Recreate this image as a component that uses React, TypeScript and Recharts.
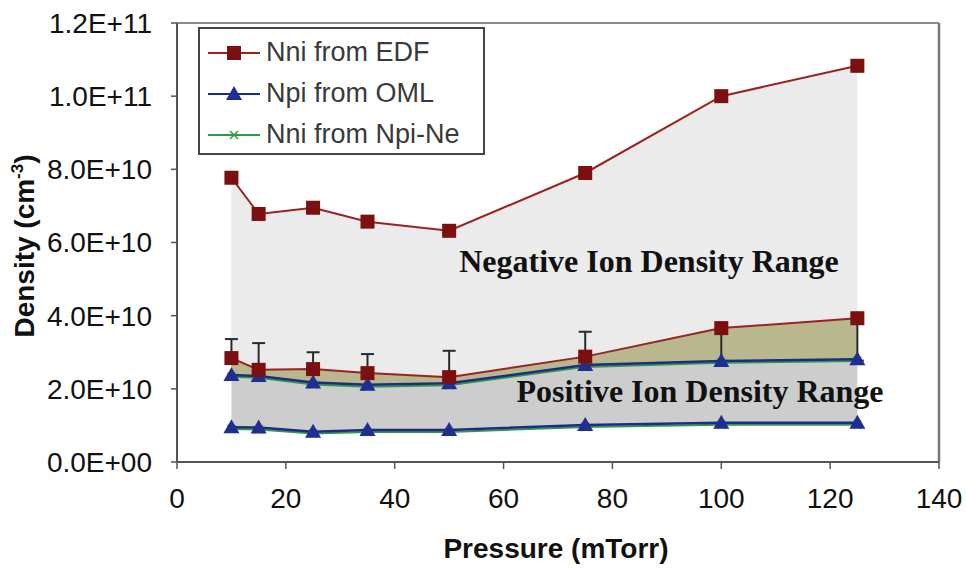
import React from "react";
import {
  ComposedChart,
  Area,
  Line,
  Scatter,
  XAxis,
  YAxis,
  ErrorBar,
  ReferenceLine,
  Legend,
} from "recharts";

// pressure in mTorr, densities in units of 1e10 cm^-3
const pressure = [10, 15, 25, 35, 50, 75, 100, 125];
const nniEdfHigh = [7.77, 6.78, 6.95, 6.57, 6.32, 7.9, 10.0, 10.83];
const nniEdfLow = [2.84, 2.52, 2.54, 2.43, 2.32, 2.88, 3.66, 3.93];
// [minus, plus] error on the lower EDF estimate
const nniEdfErr = [
  [0, 0.52],
  [0, 0.73],
  [0, 0.46],
  [0, 0.52],
  [0, 0.72],
  [0, 0.68],
  [0.94, 0],
  [1.16, 0],
];
const npiOmlHigh = [2.38, 2.35, 2.17, 2.11, 2.15, 2.65, 2.76, 2.81];
const npiOmlLow = [0.95, 0.94, 0.83, 0.875, 0.875, 1.01, 1.07, 1.07];
const nniNpiNeHigh = [2.33, 2.3, 2.12, 2.06, 2.1, 2.6, 2.71, 2.76];
const nniNpiNeLow = [0.9, 0.89, 0.78, 0.82, 0.82, 0.96, 1.02, 1.02];

const xTicks = [0, 20, 40, 60, 80, 100, 120, 140];
const yTicks = [0, 2, 4, 6, 8, 10, 12];

const COLORS = {
  edf: "#9a2222",
  edfMarker: "#7c1010",
  oml: "#1d2a86",
  omlMarker: "#1f2e90",
  npine: "#2f9a44",
  negFill: "#ebebeb",
  gapFill: "#b8b78e",
  posFill: "#cdcdcd",
  axis: "#555",
  frame: "#8a8a8a",
  err: "#2a2a2a",
};

const rows = pressure.map((p, i) => ({
  p,
  edfHigh: nniEdfHigh[i],
  edfLow: nniEdfLow[i],
  edfErr: nniEdfErr[i],
  omlHigh: npiOmlHigh[i],
  omlLow: npiOmlLow[i],
  npineHigh: nniNpiNeHigh[i],
  npineLow: nniNpiNeLow[i],
  negRange: [nniEdfLow[i], nniEdfHigh[i]],
  gapRange: [npiOmlHigh[i], nniEdfLow[i]],
  posRange: [npiOmlLow[i], npiOmlHigh[i]],
}));

function sci(v: number): string {
  const [m, e] = (v * 1e10).toExponential(1).split("e");
  const n = parseInt(e, 10);
  return `${m}E${n < 0 ? "-" : "+"}${String(Math.abs(n)).padStart(2, "0")}`;
}

const FONT = "'Liberation Sans', Arial, sans-serif";
const SERIF = "'Liberation Serif', 'Times New Roman', serif";

const squareShape = (props: any) => {
  const { cx, cy } = props;
  return <rect x={cx - 7} y={cy - 7} width={14} height={14} fill={COLORS.edfMarker} />;
};

const triangleShape = (props: any) => {
  const { cx, cy } = props;
  return (
    <polygon
      points={`${cx},${cy - 8} ${cx + 8},${cy + 6} ${cx - 8},${cy + 6}`}
      fill={COLORS.omlMarker}
    />
  );
};

const crossShape = (props: any) => {
  const { cx, cy } = props;
  return (
    <path
      d={`M${cx - 4},${cy - 4}L${cx + 4},${cy + 4}M${cx - 4},${cy + 4}L${cx + 4},${cy - 4}`}
      stroke={COLORS.npine}
      strokeWidth={1.5}
    />
  );
};

const legendItems = [
  { label: "Nni from EDF", color: COLORS.edf, marker: "square" },
  { label: "Npi from OML", color: COLORS.oml, marker: "triangle" },
  { label: "Nni from Npi-Ne", color: COLORS.npine, marker: "cross" },
];

function LegendIcon({ color, marker }: { color: string; marker: string }) {
  return (
    <svg width={52} height={20} style={{ display: "block", marginRight: 6 }}>
      <line x1={0} y1={10} x2={52} y2={10} stroke={color} strokeWidth={2} />
      {marker === "square" && <rect x={19} y={3} width={14} height={14} fill={COLORS.edfMarker} />}
      {marker === "triangle" && <polygon points="26,2 34,16 18,16" fill={COLORS.omlMarker} />}
      {marker === "cross" && (
        <path d="M22,6L30,14M22,14L30,6" stroke={color} strokeWidth={1.5} />
      )}
    </svg>
  );
}

function LegendBox() {
  return (
    <div
      style={{
        boxSizing: "border-box",
        width: 287,
        height: 128,
        border: "2px solid #444",
        background: "#fff",
        paddingTop: 3,
        paddingLeft: 8,
        fontFamily: FONT,
        fontSize: 27,
        color: "#3a3a3a",
      }}
    >
      {legendItems.map((it) => (
        <div key={it.label} style={{ display: "flex", alignItems: "center", height: 41 }}>
          <LegendIcon color={it.color} marker={it.marker} />
          <span style={{ whiteSpace: "nowrap" }}>{it.label}</span>
        </div>
      ))}
    </div>
  );
}

// region captions and axis titles, laid over the plot
function Captions() {
  return (
    <svg
      width={966}
      height={569}
      style={{ position: "absolute", left: 0, top: 0, pointerEvents: "none" }}
    >
      <text x={649} y={272} textAnchor="middle" fontFamily={SERIF} fontWeight="bold" fontSize={32} fill="#111">
        Negative Ion Density Range
      </text>
      <text x={700} y={402} textAnchor="middle" fontFamily={SERIF} fontWeight="bold" fontSize={32} fill="#111">
        Positive Ion Density Range
      </text>
      <text
        x={34}
        y={246}
        transform="rotate(-90 34 246)"
        textAnchor="middle"
        fontFamily={FONT}
        fontWeight="bold"
        fontSize={28}
        fill="#111"
      >
        Density (cm
        <tspan dy={-11} fontSize={17}>
          -3
        </tspan>
        <tspan dy={11}>)</tspan>
      </text>
      <text x={556} y={558} textAnchor="middle" fontFamily={FONT} fontWeight="bold" fontSize={28} fill="#111">
        Pressure (mTorr)
      </text>
    </svg>
  );
}

export default function App() {
  return (
    <div style={{ position: "absolute", left: 0, top: 0, width: 966, height: 569, background: "#fff" }}>
      <ComposedChart
        width={966}
        height={569}
        data={rows}
        margin={{ top: 23, right: 27, bottom: 0, left: 0 }}
      >
        <XAxis
          type="number"
          dataKey="p"
          domain={[0, 140]}
          ticks={xTicks}
          interval={0}
          height={107}
          tickSize={7}
          tickMargin={19}
          axisLine={{ stroke: COLORS.axis, strokeWidth: 2 }}
          tickLine={{ stroke: COLORS.axis, strokeWidth: 1.5 }}
          tick={{ fontSize: 28, fill: "#111", fontFamily: FONT }}
        />
        <YAxis
          type="number"
          domain={[0, 12]}
          ticks={yTicks}
          interval={0}
          width={177}
          tickSize={6}
          tickMargin={19}
          tickFormatter={sci}
          axisLine={{ stroke: COLORS.axis, strokeWidth: 2 }}
          tickLine={{ stroke: COLORS.axis, strokeWidth: 1.5 }}
          tick={{ fontSize: 28, fill: "#111", fontFamily: FONT }}
        />

        {/* shaded density ranges */}
        <Area type="linear" dataKey="negRange" stroke="none" fill={COLORS.negFill} fillOpacity={1} legendType="none" isAnimationActive={false} />
        <Area type="linear" dataKey="gapRange" stroke="none" fill={COLORS.gapFill} fillOpacity={1} legendType="none" isAnimationActive={false} />
        <Area type="linear" dataKey="posRange" stroke="none" fill={COLORS.posFill} fillOpacity={1} legendType="none" isAnimationActive={false} />

        <ReferenceLine y={12} stroke={COLORS.frame} strokeWidth={2} />
        <ReferenceLine x={140} stroke="#777" strokeWidth={2.5} />

        {/* error bars ride on an unstroked copy of the lower EDF series */}
        <Line type="linear" dataKey="edfLow" stroke="none" dot={false} activeDot={false} legendType="none" isAnimationActive={false}>
          <ErrorBar dataKey="edfErr" direction="y" width={6.5} stroke={COLORS.err} strokeWidth={2} isAnimationActive={false} />
        </Line>

        {/* connecting lines */}
        <Line type="linear" dataKey="npineLow" stroke={COLORS.npine} strokeWidth={2} dot={false} activeDot={false} legendType="none" isAnimationActive={false} />
        <Line type="linear" dataKey="npineHigh" stroke={COLORS.npine} strokeWidth={2} dot={false} activeDot={false} legendType="none" isAnimationActive={false} />
        <Line type="linear" dataKey="omlLow" stroke={COLORS.oml} strokeWidth={2.5} dot={false} activeDot={false} legendType="none" isAnimationActive={false} />
        <Line type="linear" dataKey="omlHigh" stroke={COLORS.oml} strokeWidth={2.5} dot={false} activeDot={false} legendType="none" isAnimationActive={false} />
        <Line type="linear" dataKey="edfHigh" stroke={COLORS.edf} strokeWidth={2} dot={false} activeDot={false} legendType="none" isAnimationActive={false} />
        <Line type="linear" dataKey="edfLow" stroke={COLORS.edf} strokeWidth={2} dot={false} activeDot={false} legendType="none" isAnimationActive={false} />

        {/* markers */}
        <Scatter dataKey="npineLow" shape={crossShape} legendType="none" isAnimationActive={false} />
        <Scatter dataKey="npineHigh" shape={crossShape} legendType="none" isAnimationActive={false} />
        <Scatter dataKey="omlLow" shape={triangleShape} legendType="none" isAnimationActive={false} />
        <Scatter dataKey="omlHigh" shape={triangleShape} legendType="none" isAnimationActive={false} />
        <Scatter dataKey="edfHigh" shape={squareShape} legendType="none" isAnimationActive={false} />
        <Scatter dataKey="edfLow" shape={squareShape} legendType="none" isAnimationActive={false} />

        <Legend
          layout="vertical"
          align="center"
          verticalAlign="middle"
          wrapperStyle={{ left: 198, top: 27, width: 287, height: 128 }}
          content={() => <LegendBox />}
        />
      </ComposedChart>
      <Captions />
    </div>
  );
}
